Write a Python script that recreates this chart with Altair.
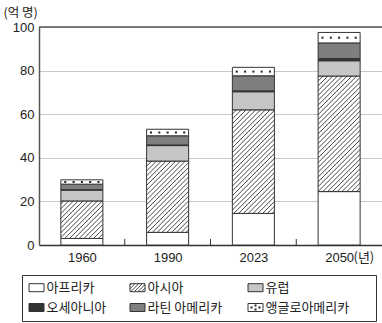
import json

import altair as alt
import numpy as np
import pandas as pd

# World population by region (unit: 100 million people)
years = ["1960", "1990", "2023", "2050"]
regions = ["아프리카", "아시아", "유럽", "오세아니아", "라틴 아메리카", "앵글로아메리카"]
africa = [3.0, 5.8, 14.5, 24.5]
asia = [17.2, 32.7, 47.5, 53.0]
europe = [5.0, 7.1, 8.3, 7.0]
oceania = [0.2, 0.3, 0.4, 1.0]
latin_america = [2.5, 4.2, 6.9, 7.2]
anglo_america = [2.0, 3.0, 3.9, 4.8]
y_ticks = [0, 20, 40, 60, 80, 100]

# ---- styling ----
fills = ["#ffffff", "#ffffff", "#c6c6c6", "#333333", "#7f7f7f", "#ffffff"]
INK = "#222222"
LINE = "#333333"
NUM_FONT = "Liberation Sans"
KR_FONT = "Noto Sans CJK KR"
W, H = 343, 218            # plot area in px
Y_MAX = y_ticks[-1]
BAR_HALF = 0.245           # half bar width, in category steps
HATCH_GAP = 4.8            # vertical gap between hatch lines, px
HATCH_SLOPE = 1.0
DOT_GAP = 8.3              # spacing of dots, px
px_x = W / len(years)
px_y = H / Y_MAX

series = [africa, asia, europe, oceania, latin_america, anglo_america]


def hatch(x0, x1, y0, y1, gap, slope):
    """Clip '/' lines (y up) to the rectangle [x0,x1]x[y0,y1]."""
    out = []
    c = np.floor((y0 - slope * x1) / gap) * gap
    while c < y1 - slope * x0:
        xa = max(x0, (y0 - c) / slope)
        xb = min(x1, (y1 - c) / slope)
        if xb > xa:
            out.append((xa, slope * xa + c, xb, slope * xb + c))
        c += gap
    return out


# stacked segments
rows = []
for i, yr in enumerate(years):
    base = 0.0
    for r, vals in zip(regions, series):
        v = vals[i]
        rows.append(dict(year=yr, idx=i, region=r, value=v, y0=base, y1=base + v,
                         xl=i - BAR_HALF, xr=i + BAR_HALF))
        base += v
seg = pd.DataFrame(rows)

# hatch lines for the Asia segments
hrows = []
for _, s in seg[seg.region == regions[1]].iterrows():
    X0, X1 = (s.xl + 0.5) * px_x, (s.xr + 0.5) * px_x
    Y0, Y1 = s.y0 * px_y, s.y1 * px_y
    for xa, ya, xb, yb in hatch(X0, X1, Y0, Y1, HATCH_GAP, HATCH_SLOPE):
        hrows.append(dict(hx=xa / px_x - 0.5, hy=ya / px_y,
                          hx2=xb / px_x - 0.5, hy2=yb / px_y))
hatch_df = pd.DataFrame(hrows)

# dot row for the Anglo-America segments
drows = []
for _, s in seg[seg.region == regions[5]].iterrows():
    for k in range(-2, 3):
        drows.append(dict(dx=s.idx + k * DOT_GAP / px_x, dy=(s.y0 + s.y1) / 2))
dots_df = pd.DataFrame(drows)

bounds_df = pd.DataFrame({"b": [i + 0.5 for i in range(len(years) - 1)]})
top_df = pd.DataFrame({"top": [Y_MAX]})

# ---- legend (pixel layout below the plot) ----
col_left = [-10, 91, 209]
row_mid = [260.7, 280.5]
SYM_W, SYM_H = 15, 8
lrows = []
for j, r in enumerate(regions):
    cx, ry = col_left[j % 3], row_mid[j // 3]
    lrows.append(dict(region=r, sx=cx, sx2=cx + SYM_W, sy=ry - SYM_H / 2,
                      sy2=ry + SYM_H / 2, tx=cx + SYM_W + 2.5, ty=ry))
leg = pd.DataFrame(lrows)
box_df = pd.DataFrame({"bx": [-16.5], "bx2": [337.5], "by": [248.5], "by2": [294.5]})

lh = []
a = leg[leg.region == regions[1]].iloc[0]
for xa, ya, xb, yb in hatch(a.sx, a.sx2, -a.sy2, -a.sy, 3.6, HATCH_SLOPE):
    lh.append(dict(lx=xa, ly=-ya, lx2=xb, ly2=-yb))
leg_hatch = pd.DataFrame(lh)
d = leg[leg.region == regions[5]].iloc[0]
leg_dots = pd.DataFrame({"px": [d.sx + 3.5, d.sx + 7.5, d.sx + 7.5, d.sx + 11.5],
                         "py": [d.ty, d.ty - 2, d.ty + 2, d.ty]})

# ---- scales and axes ----
xs = alt.Scale(domain=[-0.5, len(years) - 0.5], nice=False, zero=False)
ys = alt.Scale(domain=[0, Y_MAX], nice=False)
color = alt.Color("region:N", scale=alt.Scale(domain=regions, range=fills), legend=None)

x_axis = alt.Axis(values=list(range(len(years))),
                  labelExpr=f"{json.dumps(years)}[datum.value]",
                  ticks=False, grid=False, domainColor=LINE, domainWidth=1.5,
                  labelPadding=6, labelFontSize=13, labelColor=INK, labelFont=NUM_FONT,
                  title="(년)", titleX=314, titleY=6, titleAlign="left",
                  titleBaseline="top", titleFont=KR_FONT, titleFontSize=13,
                  titleFontWeight="normal", titleColor=INK)
y_axis = alt.Axis(values=y_ticks, ticks=False, labelPadding=5, grid=True,
                  gridColor="#c8c8c8", gridWidth=1, domainColor="#555555",
                  domainWidth=1.5, labelFontSize=13, labelColor=INK, labelFont=NUM_FONT,
                  title="(억 명)", titleAngle=0, titleX=-36, titleY=-15,
                  titleAlign="left", titleBaseline="middle", titleFont=KR_FONT,
                  titleFontSize=12.5, titleFontWeight="normal", titleColor=INK)

bars = alt.Chart(seg).mark_rect(stroke=LINE, strokeWidth=1).encode(
    x=alt.X("xl:Q", scale=xs, axis=x_axis), x2="xr:Q",
    y=alt.Y("y0:Q", scale=ys, axis=y_axis), y2="y1:Q",
    fill=color,
)

hatch_lines = alt.Chart(hatch_df).mark_rule(color=LINE, strokeWidth=0.9).encode(
    x=alt.X("hx:Q", scale=xs, axis=x_axis), x2="hx2:Q",
    y=alt.Y("hy:Q", scale=ys, axis=y_axis), y2="hy2:Q",
)

dots = alt.Chart(dots_df).mark_square(size=4, color=INK, opacity=1).encode(
    x=alt.X("dx:Q", scale=xs, axis=x_axis),
    y=alt.Y("dy:Q", scale=ys, axis=y_axis),
)

top_line = alt.Chart(top_df).mark_rule(color="#555555", strokeWidth=1.5).encode(
    y=alt.Y("top:Q", scale=ys, axis=y_axis),
)

band_ticks = alt.Chart(bounds_df).mark_rule(color=LINE, strokeWidth=1).encode(
    x=alt.X("b:Q", scale=xs, axis=x_axis),
    y=alt.value(H), y2=alt.value(H - 6),
)

# legend pieces, positioned in pixels
legend_box = alt.Chart(box_df).mark_rect(fill="#ffffff", fillOpacity=0, stroke=LINE,
                                         strokeWidth=1).encode(
    x=alt.X("bx:Q", scale=None), x2="bx2:Q",
    y=alt.Y("by:Q", scale=None), y2="by2:Q",
)
legend_sym = alt.Chart(leg).mark_rect(stroke=LINE, strokeWidth=1).encode(
    x=alt.X("sx:Q", scale=None), x2="sx2:Q",
    y=alt.Y("sy:Q", scale=None), y2="sy2:Q",
    fill=color,
)
legend_hatch = alt.Chart(leg_hatch).mark_rule(color=LINE, strokeWidth=0.9).encode(
    x=alt.X("lx:Q", scale=None), x2="lx2:Q",
    y=alt.Y("ly:Q", scale=None), y2="ly2:Q",
)
legend_dots = alt.Chart(leg_dots).mark_square(size=4, color=INK, opacity=1).encode(
    x=alt.X("px:Q", scale=None),
    y=alt.Y("py:Q", scale=None),
)
legend_text = alt.Chart(leg).mark_text(align="left", baseline="middle", font=KR_FONT,
                                       fontSize=13, color=INK).encode(
    x=alt.X("tx:Q", scale=None),
    y=alt.Y("ty:Q", scale=None),
    text="region:N",
)

chart = alt.layer(
    bars, hatch_lines, dots, top_line, band_ticks,
    legend_box, legend_sym, legend_hatch, legend_dots, legend_text,
).properties(
    width=W, height=H,
    autosize=alt.AutoSizeParams(type="none"),
    padding={"left": 39, "top": 27, "right": 0, "bottom": 78},
).configure_view(stroke=None)

chart.save("out.html", embed_options={"renderer": "svg", "actions": False})
